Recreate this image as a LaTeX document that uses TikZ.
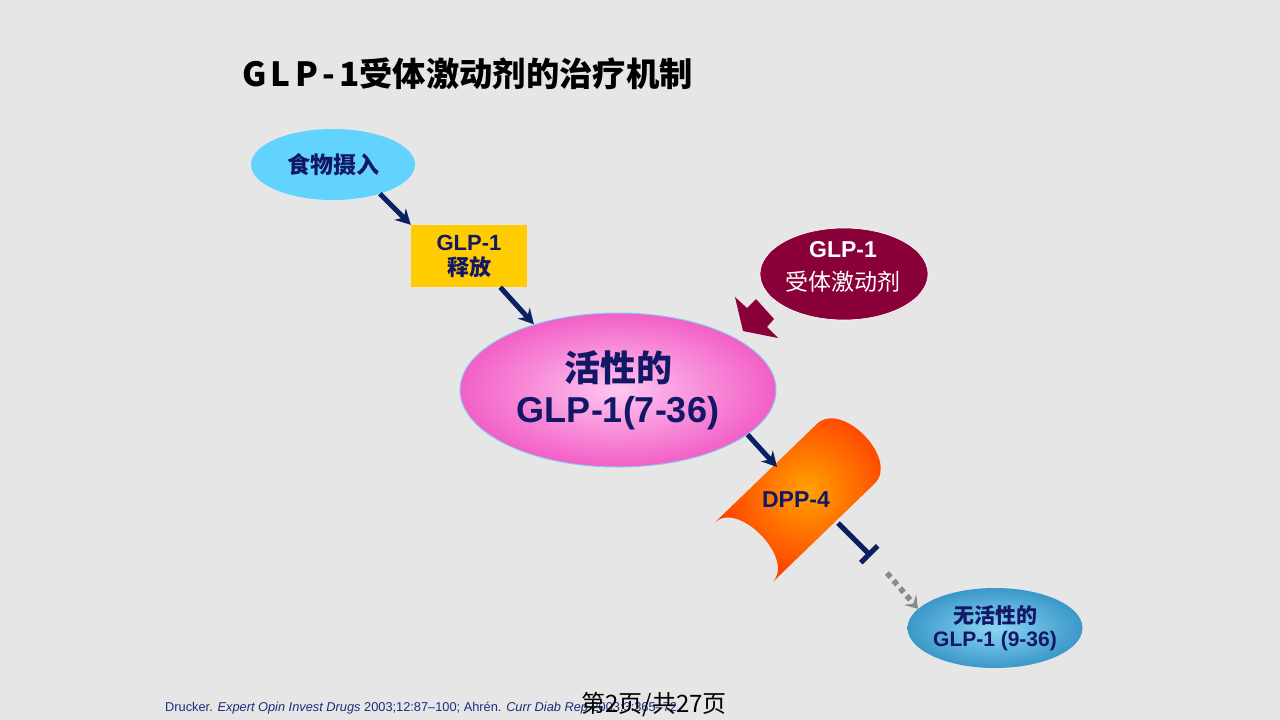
\documentclass[tikz,border=0pt]{standalone}
\usepackage{fontspec}
\setmainfont{Liberation Sans}
\newfontfamily\cjk{Noto Sans CJK SC}
\usetikzlibrary{shapes.geometric,arrows.meta}
\definecolor{bg}{HTML}{E6E6E6}
\definecolor{navy}{HTML}{121766}
\definecolor{arrownavy}{HTML}{0B1F63}
\definecolor{cyanfill}{HTML}{62D3FF}
\definecolor{yellowfill}{HTML}{FFCC00}
\definecolor{maroonfill}{HTML}{8A0039}
\definecolor{pinkin}{HTML}{FFC6F2}
\definecolor{pinkout}{HTML}{F25FC6}
\definecolor{pinkedge}{HTML}{8CC6EE}
\definecolor{orangein}{HTML}{FFA200}
\definecolor{orangeout}{HTML}{FF3C00}
\definecolor{bluein}{HTML}{8CD6F4}
\definecolor{blueout}{HTML}{3A98C8}
\definecolor{footblue}{HTML}{1C2C7C}
\definecolor{dotgray}{HTML}{8A8A8A}
\begin{document}
\begin{tikzpicture}[x=1pt,y=-1pt,
  flow/.style={draw=arrownavy, line width=5pt, -{Stealth[length=15pt,width=16pt,inset=5pt]}},
  inhibit/.style={draw=arrownavy, line width=5pt, -{Bar[width=24pt,line width=5pt]}},
  dotflow/.style={draw=dotgray, line width=5.5pt, dash pattern=on 5.5pt off 4.5pt, -{Stealth[length=12pt,width=16pt,inset=5pt]}},
  oval/.style={ellipse, inner sep=0pt, align=center}
]
\useasboundingbox (0,0) rectangle (1280,720);
\fill[bg] (0,0) rectangle (1280,720);

% title
\node[anchor=west, inner sep=0pt, font=\cjk\bfseries\fontsize{33.3}{36}\selectfont] (title) at (242,74)
  {G\kern4.3pt L\kern4.3pt P\kern4.3pt -\kern4.3pt 1受体激动剂的治疗机制};

% food intake
\node[oval, minimum width=164pt, minimum height=71pt, fill=cyanfill, text=navy,
  font=\cjk\bfseries\fontsize{23}{26}\selectfont] (food) at (333,164.5) {食物摄入};

% GLP-1 release
\node[rectangle, minimum width=116pt, minimum height=62pt, fill=yellowfill, inner sep=0pt,
  align=center, text=navy, font=\bfseries\fontsize{22}{25}\selectfont] (rel) at (469,256)
  {GLP-1\\{\cjk 释放}};

% active GLP-1
\node[oval, minimum width=316pt, minimum height=154pt, inner color=pinkin, outer color=pinkout,
  draw=pinkedge, line width=1pt, text=navy, font=\bfseries\fontsize{36}{41}\selectfont] (act) at (618,390)
  {{\cjk 活性的}\\GLP-1(7-36)};

% agonist
\node[oval, minimum width=168pt, minimum height=92pt, fill=maroonfill, draw=white, line width=0.6pt] (ago) at (844,274) {};
\node[align=center, text=white, font=\fontsize{23}{33}\selectfont] (agotext) at (843,266.5)
  {\bfseries GLP-1\\{\cjk 受体激动剂}};

% maroon block arrow
\fill[maroonfill] (735,297) -- (747,308) -- (756,299) -- (774,319) -- (767,327) -- (778,338) -- (743,331) -- cycle;

% DPP-4 shape
\begin{scope}[shift={(743.5,552.5)}, rotate=44]
  \shade[inner color=orangein, outer color=orangeout]
    (0,-41.5) -- (142,-41.5) .. controls (177,-41.5) and (177,41.5) .. (142,41.5)
    -- (0,41.5) .. controls (33,41.5) and (33,-41.5) .. (0,-41.5) -- cycle;
\end{scope}
\node[text=navy, font=\bfseries\fontsize{23}{26}\selectfont] (dpp) at (796,500) {DPP-4};
\coordinate (dppin) at (777,467);
\coordinate (dppout) at (838,523);
\coordinate (inhend) at (871,556);
\coordinate (dotstart) at (887,573);

% inactive GLP-1
\node[oval, minimum width=164pt, minimum height=80pt, inner color=bluein, outer color=blueout,
  text=navy, font=\bfseries\fontsize{21}{23.5}\selectfont] (inact) at (995,628)
  {{\cjk 无活性的}\\GLP-1 (9-36)};

% connectors
\draw[flow] (food.-32) -- (rel.north west);
\draw[flow] (rel.-45) -- (act.142);
\draw[flow] (act.-19) -- (dppin);
\draw[inhibit] (dppout) -- (inhend);
\draw[dotflow] (dotstart) -- (inact.166);

% footer
\node[anchor=base west, inner sep=0pt, text=footblue, font=\fontsize{12.8}{14}\selectfont] (ref) at (165,711)
  {Drucker. \textit{Expert Opin Invest Drugs} 2003;12:87--100; Ahrén. \textit{Curr Diab Rep} 2003;3:365--72};
\node[inner sep=0pt, font=\cjk\fontsize{24}{26}\selectfont] (page) at (654,705) {第2页/共27页};
\end{tikzpicture}
\end{document}
